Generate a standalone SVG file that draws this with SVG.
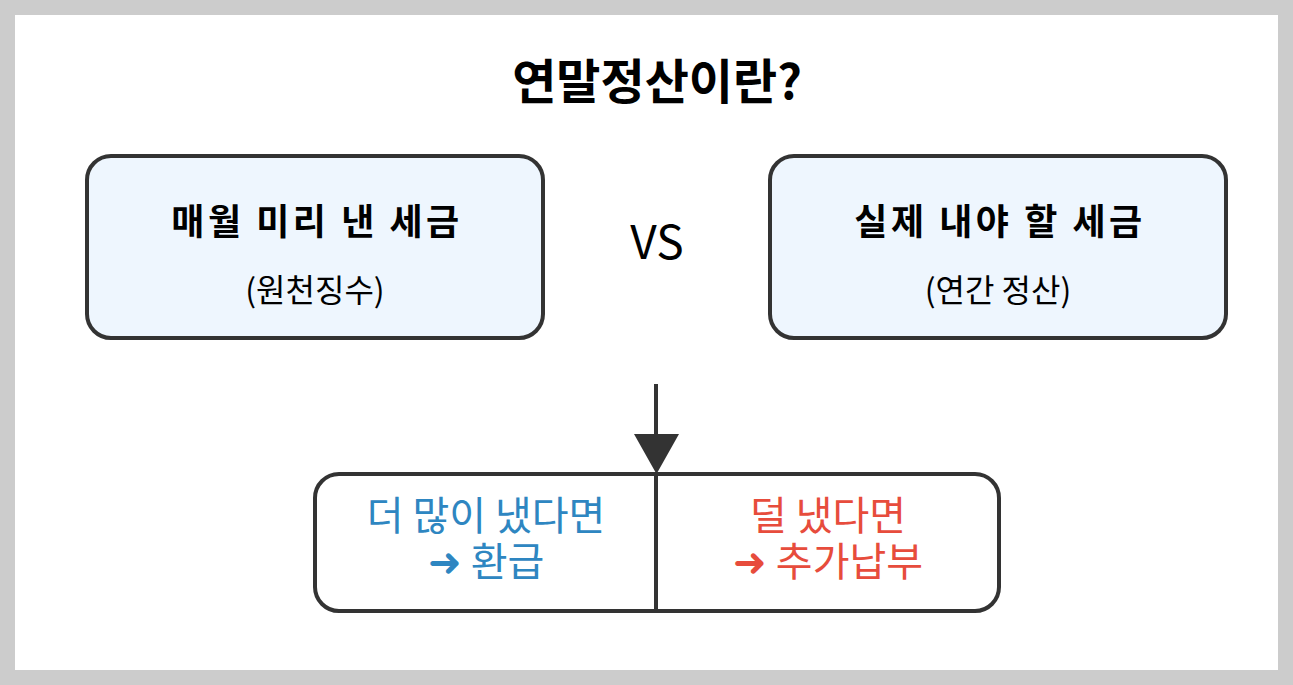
<svg xmlns="http://www.w3.org/2000/svg" width="1293" height="685" viewBox="0 0 1293 685">
<defs>
<style>
.box{fill:#eef6fe;stroke:#333;stroke-width:4}
.res{fill:#fff;stroke:#333;stroke-width:4}
.t{font-family:"Noto Sans CJK KR","Noto Sans",sans-serif;text-anchor:middle}
.h{font-size:36px;font-weight:bold;fill:#000;letter-spacing:3.5px}
.s{font-size:32px;fill:#000}
.b{font-size:40px;fill:#2e86c1}
.r{font-size:40px;fill:#e74c3c}
.ln{stroke:#333;stroke-width:4;fill:none}
</style>
</defs>
<rect x="0" y="0" width="1293" height="685" fill="#ccc"/>
<rect x="15" y="15" width="1263" height="655" fill="#fff"/>
<text class="t" x="657" y="99" font-size="48" font-weight="bold" fill="#000">연말정산이란?</text>
<g id="node-left">
<rect class="box" x="87" y="156" width="456" height="182" rx="24"/>
<text class="t h" x="317" y="235">매월 미리 낸 세금</text>
<text class="t s" x="315" y="302">(원천징수)</text>
</g>
<g id="node-vs">
<text class="t" x="657" y="259" font-size="46" fill="#000">VS</text>
</g>
<g id="node-right">
<rect class="box" x="770" y="156" width="456" height="182" rx="24"/>
<text class="t h" x="1000" y="235">실제 내야 할 세금</text>
<text class="t s" x="998" y="302">(연간 정산)</text>
</g>
<g id="node-result">
<rect class="res" x="315" y="474" width="684" height="137" rx="24"/>
<line class="ln" x1="656" y1="474" x2="656" y2="611"/>
<text class="t b" x="486" y="530">더 많이 냈다면</text>
<text class="t b" x="486" y="576">➜ 환급</text>
<text class="t r" x="828" y="530">덜 냈다면</text>
<text class="t r" x="828" y="576">➜ 추가납부</text>
</g>
<g id="connectors">
<line class="ln" x1="656" y1="384" x2="656" y2="440"/>
<path d="M634,434 L679,434 L656.5,474 Z" fill="#333"/>
</g>
</svg>
